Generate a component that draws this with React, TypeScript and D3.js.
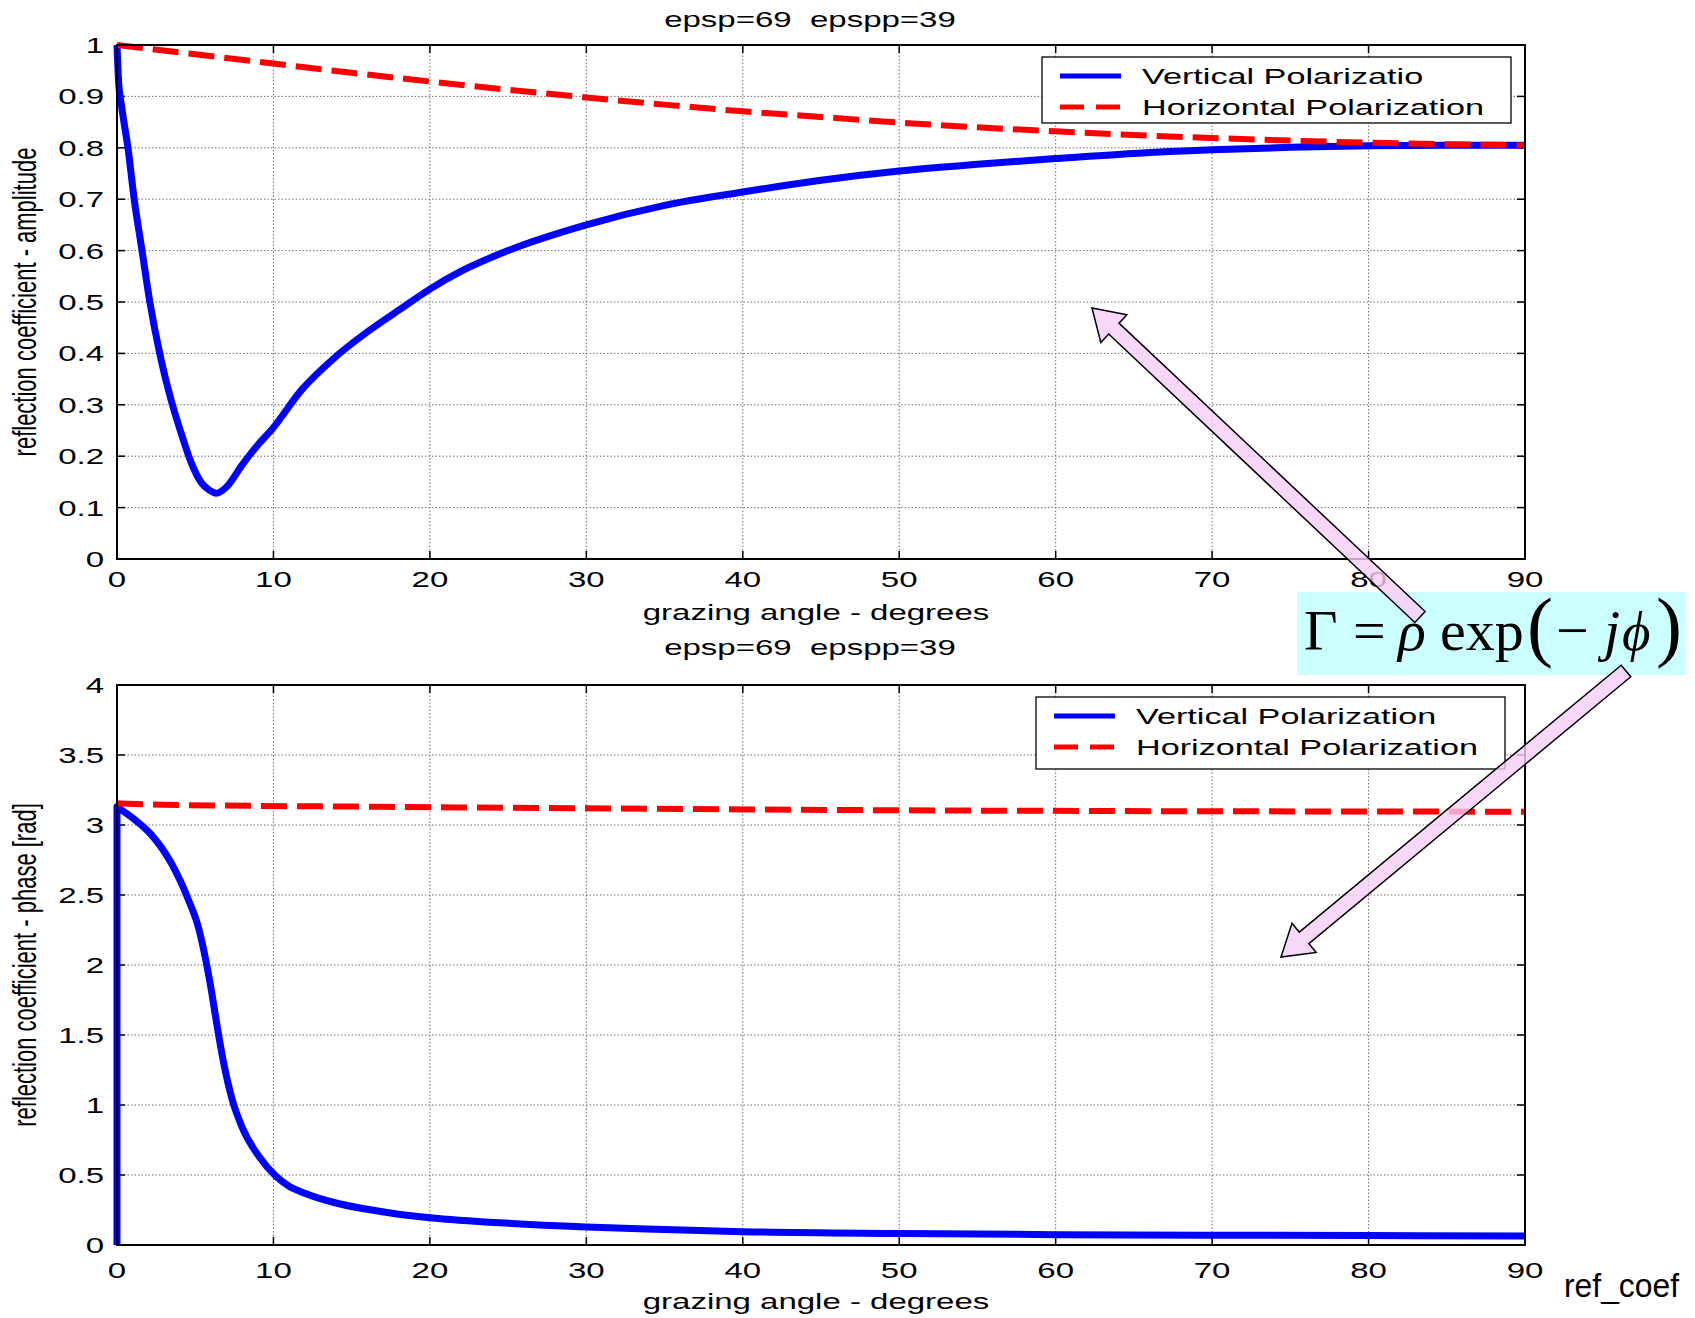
import React from "react";
import * as d3 from "d3";

// ---------- data ----------
const xTicks = [0, 10, 20, 30, 40, 50, 60, 70, 80, 90];
const ampTicks = [0, 0.1, 0.2, 0.3, 0.4, 0.5, 0.6, 0.7, 0.8, 0.9, 1];
const phaseTicks = [0, 0.5, 1, 1.5, 2, 2.5, 3, 3.5, 4];

const ampVertDeg = [0, 0.1, 0.3, 0.7, 1.1, 1.6, 2.1, 2.8, 3.45, 4.1, 4.75, 5.4, 5.9, 6.35, 7.0, 8.0, 9.0, 9.9, 11.8, 14, 16.1, 18.3, 20, 22, 25, 30, 35, 40, 45, 50, 55, 60, 65, 70, 75, 80, 85, 90];
const ampVertVal = [1.0, 0.93, 0.88, 0.8, 0.7, 0.6, 0.5, 0.39, 0.31, 0.245, 0.187, 0.148, 0.134, 0.128, 0.14, 0.183, 0.222, 0.252, 0.329, 0.394, 0.444, 0.49, 0.525, 0.56, 0.6, 0.65, 0.688, 0.714, 0.737, 0.755, 0.768, 0.779, 0.789, 0.796, 0.801, 0.804, 0.805, 0.805];

const ampHorDeg = [0, 5, 10, 15, 20, 25, 30, 35, 40, 45, 50, 55, 60, 65, 70, 75, 80, 85, 90];
const ampHorVal = [1.0, 0.982, 0.964, 0.946, 0.929, 0.913, 0.898, 0.884, 0.871, 0.86, 0.849, 0.84, 0.832, 0.825, 0.819, 0.814, 0.81, 0.807, 0.805];

const phVertDeg = [0, 0, 1, 2.16, 3.46, 4.55, 5.2, 5.63, 6.06, 6.39, 6.82, 7.36, 8.0, 9.09, 10.17, 11, 12, 14, 16, 18, 20, 25, 30, 35, 40, 50, 60, 70, 80, 90];
const phVertVal = [0, 3.13, 3.05, 2.935, 2.73, 2.47, 2.27, 2.06, 1.8, 1.57, 1.3, 1.04, 0.84, 0.63, 0.49, 0.42, 0.37, 0.3, 0.255, 0.22, 0.195, 0.155, 0.128, 0.11, 0.095, 0.082, 0.074, 0.07, 0.067, 0.065];

const phHorDeg = [0, 3, 17, 32, 50, 90];
const phHorVal = [3.155, 3.145, 3.13, 3.118, 3.105, 3.095];

const titleText = "epsp=69  epspp=39";
const xLabel = "grazing angle - degrees";
const yLabelAmp = "reflection coefficient - amplitude";
const yLabelPhase = "reflection coefficient - phase [rad]";
const legendTop = ["Vertical Polarizatio", "Horizontal Polarization"];
const legendBottom = ["Vertical Polarization", "Horizontal Polarization"];

// ---------- style ----------
const W = 1695;
const H = 1318;
const SX = 1.5;
const FS = 22;
const FONT = "'Liberation Sans', Arial, Helvetica, sans-serif";
const SERIF = "'Liberation Serif', 'Times New Roman', serif";
const BLUE = "#0000ff";
const RED = "#ff0000";
const DASH = "26,10";
const X0 = 117;
const X1 = 1525;

function SText({ x, y, anchor = "start", rotate = false, size = FS, children }: any) {
  return (
    <text
      transform={`translate(${x},${y}) scale(${SX},1)${rotate ? " rotate(-90)" : ""}`}
      textAnchor={anchor}
      fontSize={size}
      fontFamily={FONT}
      fill="#000"
      style={{ whiteSpace: "pre" }}
    >
      {children}
    </text>
  );
}

function zip(xs: number[], ys: number[]) {
  return xs.map((x, i) => [x, ys[i]] as [number, number]);
}

function Panel({ top, bottom, yDomain, yTicks, tickBase, titleY, xLabelY, yLabel, series, legend, legendBox }: any) {
  const x = d3.scaleLinear().domain([0, 90]).range([X0, X1]);
  const y = d3.scaleLinear().domain(yDomain).range([bottom, top]);
  const line = d3
    .line<[number, number]>()
    .x((d) => x(d[0]))
    .y((d) => y(d[1]))
    .curve(d3.curveMonotoneX);
  const T = 8;
  const pathFor = (data: [number, number][]) => {
    // a leading vertical jump (two points at the same x) is drawn straight
    if (data.length > 2 && data[0][0] === data[1][0]) {
      const rest = line(data.slice(1)) || "";
      return `M${x(data[0][0])},${y(data[0][1])}L` + rest.slice(1);
    }
    return line(data) || "";
  };
  return (
    <g>
      {xTicks.slice(1, -1).map((t) => (
        <line key={"gx" + t} x1={x(t)} x2={x(t)} y1={top} y2={bottom} stroke="#707070" strokeWidth={1} strokeDasharray="1.5,2" />
      ))}
      {yTicks.slice(1, -1).map((t: number) => (
        <line key={"gy" + t} x1={X0} x2={X1} y1={y(t)} y2={y(t)} stroke="#707070" strokeWidth={1} strokeDasharray="1.5,2" />
      ))}
      {xTicks.map((t) => (
        <g key={"tx" + t}>
          <line x1={x(t)} x2={x(t)} y1={bottom} y2={bottom - T} stroke="#000" strokeWidth={1.5} />
          <line x1={x(t)} x2={x(t)} y1={top} y2={top + T} stroke="#000" strokeWidth={1.5} />
          <SText x={x(t)} y={tickBase} anchor="middle">{String(t)}</SText>
        </g>
      ))}
      {yTicks.map((t: number) => (
        <g key={"ty" + t}>
          <line x1={X0} x2={X0 + T} y1={y(t)} y2={y(t)} stroke="#000" strokeWidth={1.5} />
          <line x1={X1} x2={X1 - T} y1={y(t)} y2={y(t)} stroke="#000" strokeWidth={1.5} />
          <SText x={104} y={y(t) + 8} anchor="end">{String(t)}</SText>
        </g>
      ))}
      {series.map((s: any, i: number) => (
        <path key={"s" + i} d={pathFor(s.data)} fill="none" stroke={s.color} strokeWidth={s.dash ? 6 : 7} strokeDasharray={s.dash || undefined} strokeLinejoin="round" />
      ))}
      <rect x={X0} y={top} width={X1 - X0} height={bottom - top} fill="none" stroke="#000" strokeWidth={2} />
      <SText x={810} y={titleY} anchor="middle">{titleText}</SText>
      <SText x={816} y={xLabelY} anchor="middle">{xLabel}</SText>
      <SText x={36} y={(top + bottom) / 2} anchor="middle" rotate>{yLabel}</SText>
      <rect x={legendBox.x} y={legendBox.y} width={legendBox.w} height={legendBox.h} fill="#fff" stroke="#000" strokeWidth={1.3} />
      {legend.map((label: string, i: number) => {
        const cy = legendBox.y + 19 + i * 31;
        return (
          <g key={"lg" + i}>
            <line x1={legendBox.x + 18} x2={legendBox.x + 79} y1={cy} y2={cy} stroke={series[i].color} strokeWidth={5} strokeDasharray={series[i].dash ? "24,12" : undefined} />
            <SText x={legendBox.x + 100} y={cy + 8} size={22.8}>{label}</SText>
          </g>
        );
      })}
    </g>
  );
}

function arrowPoly(x1: number, y1: number, x2: number, y2: number, sw: number, hw: number, hl: number) {
  const dx = x2 - x1;
  const dy = y2 - y1;
  const len = Math.hypot(dx, dy);
  const ux = dx / len;
  const uy = dy / len;
  const px = -uy;
  const py = ux;
  const bx = x2 - ux * hl;
  const by = y2 - uy * hl;
  const pts = [
    [x1 + px * sw, y1 + py * sw],
    [bx + px * sw, by + py * sw],
    [bx + px * hw, by + py * hw],
    [x2, y2],
    [bx - px * hw, by - py * hw],
    [bx - px * sw, by - py * sw],
    [x1 - px * sw, y1 - py * sw],
  ];
  return pts.map((p) => p.join(",")).join(" ");
}

export default function App() {
  return (
    <svg width={W} height={H} style={{ position: "absolute", left: 0, top: 0, background: "#fff" }}>
      <rect x={0} y={0} width={W} height={H} fill="#fff" />
      <Panel
        top={45}
        bottom={559}
        yDomain={[0, 1]}
        yTicks={ampTicks}
        tickBase={587}
        titleY={27}
        xLabelY={620}
        yLabel={yLabelAmp}
        series={[
          { data: zip(ampVertDeg, ampVertVal), color: BLUE },
          { data: zip(ampHorDeg, ampHorVal), color: RED, dash: DASH },
        ]}
        legend={legendTop}
        legendBox={{ x: 1042, y: 57, w: 469, h: 66 }}
      />
      <Panel
        top={685}
        bottom={1245}
        yDomain={[0, 4]}
        yTicks={phaseTicks}
        tickBase={1278}
        titleY={655}
        xLabelY={1309}
        yLabel={yLabelPhase}
        series={[
          { data: zip(phVertDeg, phVertVal), color: BLUE },
          { data: zip(phHorDeg, phHorVal), color: RED, dash: DASH },
        ]}
        legend={legendBottom}
        legendBox={{ x: 1036, y: 697, w: 469, h: 72 }}
      />
      <rect x={1297} y={592} width={389} height={83} fill="#ccffff" />
      <g fontFamily={SERIF} fill="#000" fontSize={58}>
        <text x={1304} y={650}>Γ</text>
        <text x={1353} y={650}>=</text>
        <text x={1398} y={650} fontStyle="italic">ρ</text>
        <text x={1440} y={650}>exp</text>
        <text x={1527} y={652} fontSize={78}>(</text>
        <text x={1556} y={650}>−</text>
        <text x={1604} y={650} fontStyle="italic">j</text>
        <text x={1622} y={650} fontStyle="italic" fontSize={55}>ϕ</text>
        <text x={1656} y={652} fontSize={78}>)</text>
      </g>
      <polygon points={arrowPoly(1420, 617, 1092, 308, 7.5, 19, 30)} fill="#f7cdf7" fillOpacity={0.8} stroke="#000" strokeWidth={1.5} />
      <polygon points={arrowPoly(1626, 671, 1281, 957, 7.5, 19, 30)} fill="#f7cdf7" fillOpacity={0.8} stroke="#000" strokeWidth={1.5} />
      <text x={1564} y={1297} fontFamily={FONT} fontSize={33} textLength={115} lengthAdjust="spacingAndGlyphs" fill="#000">ref_coef</text>
    </svg>
  );
}
